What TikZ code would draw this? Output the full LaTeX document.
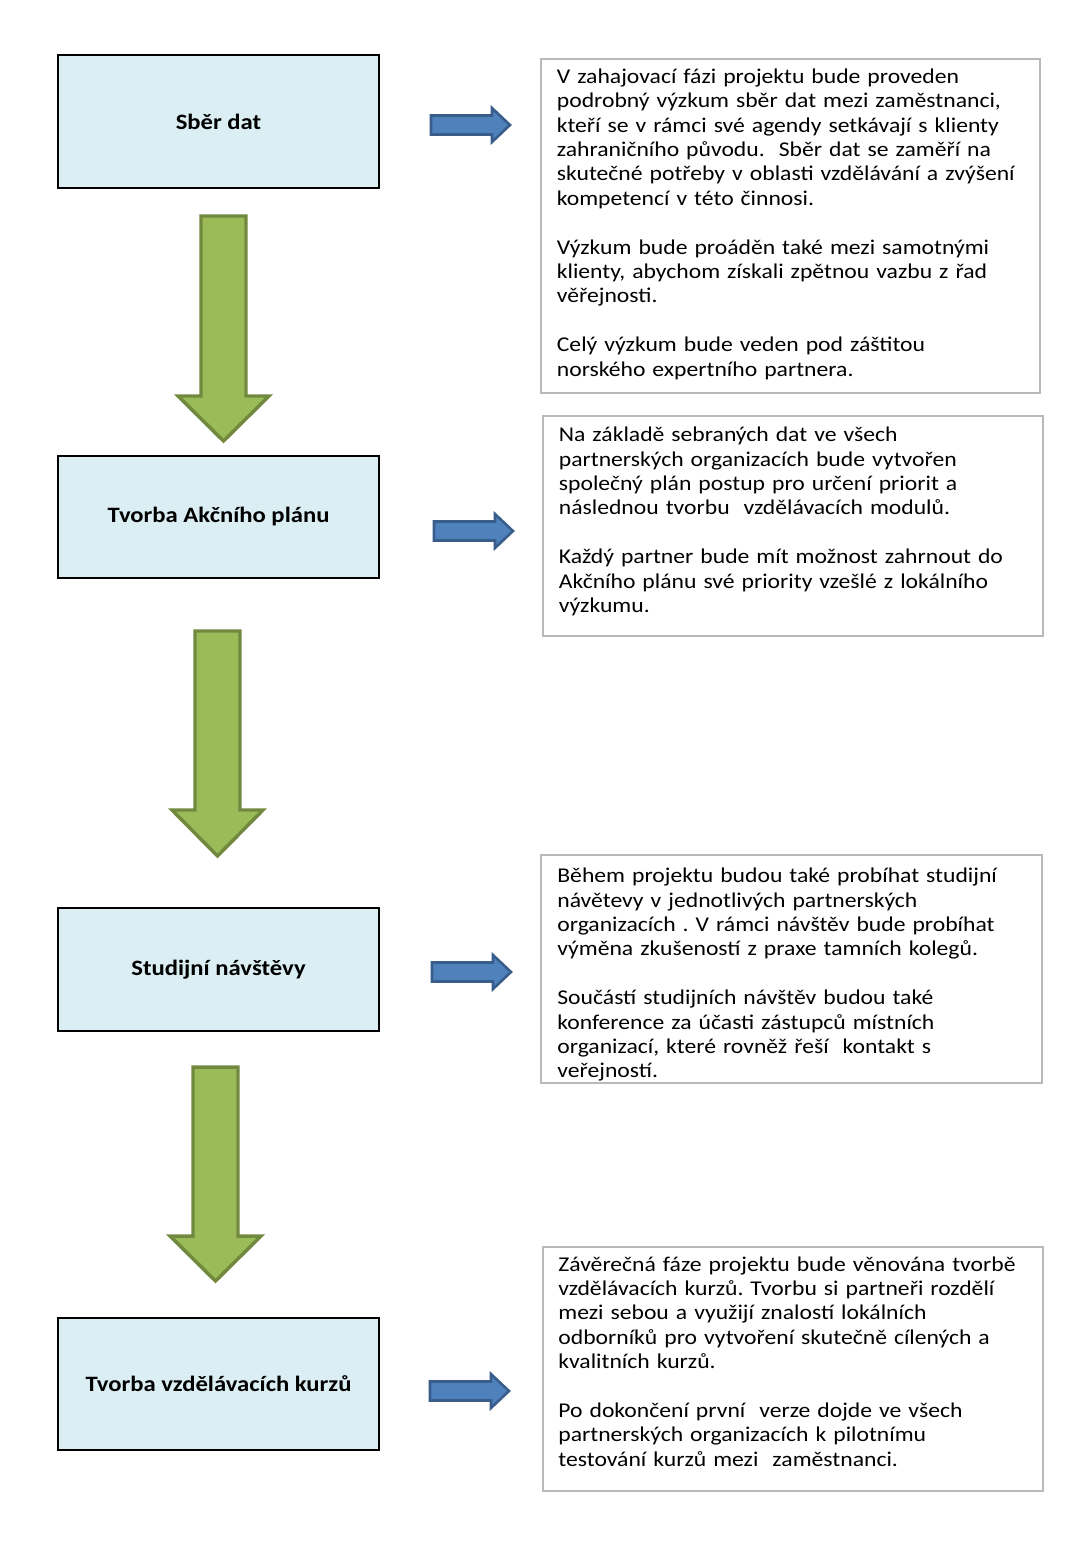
\documentclass[tikz,border=0pt]{standalone}
\usepackage{fontspec}
\setmainfont{Carlito}[FakeStretch=1.125]
\frenchspacing
\definecolor{stagefill}{HTML}{DAEEF3}
\definecolor{greenfill}{HTML}{9BBB59}
\definecolor{greenline}{HTML}{71893F}
\definecolor{bluefill}{HTML}{4F81BD}
\definecolor{blueline}{HTML}{385D8A}
\def\pxu{0.547pt}
\begin{document}
\begin{tikzpicture}[x=\pxu,y=-\pxu,
  stagebox/.style={draw=black,line width=1.1pt,fill=stagefill,minimum width=321*\pxu,font=\bfseries\fontsize{12}{14}\selectfont},
  infobox/.style={draw=gray!55,line width=1.1pt,anchor=north west,inner sep=0pt},
  infotext/.style={anchor=base west,inner sep=0pt,text width=490*\pxu,align=left,font=\fontsize{11.5}{13.35}\selectfont},
  downarr/.style={draw=greenline,fill=greenfill,line width=1.9pt,line join=miter},
  rightarr/.style={draw=blueline,fill=bluefill,line width=1.4pt,line join=miter}]

\useasboundingbox (0,0) rectangle (1088,1546);

%stages
\node[stagebox,minimum height=133*\pxu] (s1) at (218.5,121.5) {Sběr dat};
\node[stagebox,minimum height=122*\pxu] (s2) at (218.5,517) {Tvorba Akčního plánu};
\node[stagebox,minimum height=123*\pxu] (s3) at (218.5,969.5) {Studijní návštěvy};
\node[stagebox,minimum height=132*\pxu] (s4) at (218.5,1384) {Tvorba vzdělávacích kurzů};

%green arrows
\foreach \cx/\top/\base/\tip in {223.5/216/396/441, 217.5/631/810/856, 215.5/1067/1236/1281}
  \draw[downarr] (\cx-22.5,\top) -- (\cx+22.5,\top) -- (\cx+22.5,\base) -- (\cx+45.5,\base)
    -- (\cx,\tip) -- (\cx-45.5,\base) -- (\cx-22.5,\base) -- cycle;

%blue arrows
\foreach \x/\y in {431/125, 434/531, 432/972, 430/1391}
  \draw[rightarr] (\x,\y-9.5) -- (\x+61,\y-9.5) -- (\x+61,\y-17) -- (\x+79,\y)
    -- (\x+61,\y+17) -- (\x+61,\y+9.5) -- (\x,\y+9.5) -- cycle;

%info boxes
\node[infobox,minimum width=499*\pxu,minimum height=334*\pxu] (i1) at (540,58) {};
\node[infobox,minimum width=500*\pxu,minimum height=220*\pxu] (i2) at (542,415) {};
\node[infobox,minimum width=501*\pxu,minimum height=228*\pxu] (i3) at (540,854) {};
\node[infobox,minimum width=500*\pxu,minimum height=244*\pxu] (i4) at (542,1246) {};

\node[infotext] (t1) at (556.5,83.3) {V zahajovací fázi projektu bude proveden\\
podrobný výzkum sběr dat mezi zaměstnanci,\\
kteří se v rámci své agendy setkávají s klienty\\
zahraničního původu.~ Sběr dat se zaměří na\\
skutečné potřeby v oblasti vzdělávání a zvýšení\\
kompetencí v této činnosi.\\[13.35pt]
Výzkum bude proáděn také mezi samotnými\\
klienty, abychom získali zpětnou vazbu z řad\\
věřejnosti.\\[13.35pt]
Celý výzkum bude veden pod záštitou\\
norského expertního partnera.};

\node[infotext] (t2) at (558.5,441.7) {Na základě sebraných dat ve všech\\
partnerských organizacích bude vytvořen\\
společný plán postup pro určení priorit a\\
následnou tvorbu~ vzdělávacích modulů.\\[13.35pt]
Každý partner bude mít možnost zahrnout do\\
Akčního plánu své priority vzešlé z lokálního\\
výzkumu.};

\node[infotext] (t3) at (557,882.7) {Během projektu budou také probíhat studijní\\
návětevy v jednotlivých partnerských\\
organizacích . V rámci návštěv bude probíhat\\
výměna zkušeností z praxe tamních kolegů.\\[13.35pt]
Součástí studijních návštěv budou také\\
konference za účasti zástupců místních\\
organizací, které rovněž řeší~ kontakt s\\
veřejností.};

\node[infotext] (t4) at (558,1271) {Závěrečná fáze projektu bude věnována tvorbě\\
vzdělávacích kurzů. Tvorbu si partneři rozdělí\\
mezi sebou a využijí znalostí lokálních\\
odborníků pro vytvoření skutečně cílených a\\
kvalitních kurzů.\\[13.35pt]
Po dokončení první~ verze dojde ve všech\\
partnerských organizacích k pilotnímu\\
testování kurzů mezi~ zaměstnanci.};

\end{tikzpicture}
\end{document}
